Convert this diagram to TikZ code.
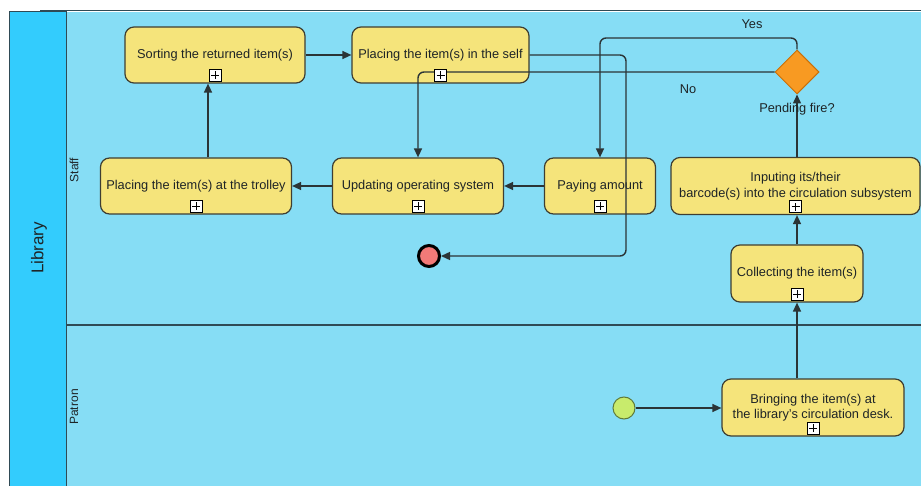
\documentclass[tikz,border=0pt]{standalone}
\usepackage{fontspec}
\setmainfont{Liberation Sans}
\usetikzlibrary{arrows.meta,shapes.geometric,calc}

\definecolor{poolstrip}{HTML}{33CCFD}
\definecolor{lanefill}{HTML}{86DDF5}
\definecolor{poolline}{HTML}{2F4A55}
\definecolor{taskfill}{HTML}{F5E47B}
\definecolor{taskline}{HTML}{3E3E32}
\definecolor{gatefill}{HTML}{F89A22}
\definecolor{gateline}{HTML}{C8700A}
\definecolor{startfill}{HTML}{C8EB6C}
\definecolor{startline}{HTML}{5F7A3A}
\definecolor{endfill}{HTML}{F27A78}
\definecolor{edgecol}{HTML}{2B3436}
\definecolor{txt}{HTML}{1E2426}

\newcommand{\tasksize}{\fontsize{12.8}{15.5}\selectfont}

\tikzset{
  task/.style={draw=taskline, fill=taskfill, rounded corners=9pt, line width=1.2pt,
    align=center, font=\tasksize, text=txt, inner sep=0pt},
  plusbox/.style={draw=black, fill=white, line width=0.9pt, minimum size=12pt,
    inner sep=0pt, anchor=south,
    path picture={\draw[line width=1pt]
      ([xshift=-4pt]path picture bounding box.center) -- ([xshift=4pt]path picture bounding box.center)
      ([yshift=-4pt]path picture bounding box.center) -- ([yshift=4pt]path picture bounding box.center);}},
  flow/.style={draw=edgecol, line width=1.4pt, rounded corners=6pt,
    -{Triangle[length=9pt,width=8pt]}},
  flowlabel/.style={font=\tasksize, text=txt, inner sep=0pt},
  lanelabel/.style={font=\fontsize{12}{14}\selectfont, text=txt, rotate=90, inner sep=0pt},
}

\begin{document}
\begin{tikzpicture}[x=1pt,y=-1pt]
  \useasboundingbox (0,0) rectangle (921,486);
  \fill[white] (0,0) rectangle (921,486);

  % pool and its two lanes
  \fill[lanefill] (66,12) rectangle (921,486);
  \fill[poolstrip] (9,12) rectangle (66,486);
  \draw[poolline, line width=1.2pt] (40,10.5) -- (921,10.5);
  \draw[poolline, line width=1pt] (9,490) -- (9,12) -- (66,12) -- (66,490);
  \draw[poolline, line width=1.2pt] (66,325) -- (921,325);

  \node[font=\fontsize{17}{20}\selectfont, text=txt, rotate=90, inner sep=0pt] (pool) at (39,248) {Library};
  \node[lanelabel] (staff) at (74,170) {Staff};
  \node[lanelabel] (patron) at (74,407) {Patron};

  % activities
  \node[task, minimum width=180pt, minimum height=56pt] (sort) at (215,55) {Sorting the returned item(s)};
  \node[task, minimum width=177pt, minimum height=56pt] (self) at (440.5,55) {Placing the item(s) in the self};
  \node[task, minimum width=191pt, minimum height=56pt] (trol) at (196,186) {Placing the item(s) at the trolley};
  \node[task, minimum width=171pt, minimum height=56pt] (upd) at (418,186) {Updating operating system};
  \node[task, minimum width=111pt, minimum height=56pt] (pay) at (600,186) {Paying amount};
  \node[task, minimum width=249pt, minimum height=57pt] (inp) at (795.5,186) {Inputing its/their\\barcode(s) into the circulation subsystem};
  \node[task, minimum width=132pt, minimum height=57pt] (col) at (797,273.5) {Collecting the item(s)};
  \node[task, minimum width=182pt, minimum height=57pt] (bring) at (813,407.5) {Bringing the item(s) at\\the library's circulation desk.};

  % gateway and events
  \node[diamond, draw=gateline, fill=gatefill, line width=1pt, minimum width=44pt,
    minimum height=44pt, inner sep=0pt] (gw) at (797,72) {};
  \node[circle, draw=startline, fill=startfill, line width=1pt, minimum size=22pt, inner sep=0pt] (start) at (624,408) {};
  \node[circle, draw=black, fill=endfill, line width=3pt, minimum size=21pt, inner sep=0pt] (end) at (429,256) {};

  % turning points of the routed flows
  \coordinate (selfdrop) at (626,256);
  \coordinate (yesturn) at (600,38);

  % sequence flows
  \draw[flow] (sort.east) -- (self.west);
  \draw[flow] (self.east) -| (selfdrop) -- (end.east);
  \draw[flow] (gw.north) |- (yesturn) -- (pay.north);
  \draw[flow] (gw.west) -| (upd.north);
  \draw[flow] (pay.west) -- (upd.east);
  \draw[flow] (upd.west) -- (trol.east);
  \draw[flow] ([xshift=12pt]trol.north) -- ([xshift=12pt]trol.north |- sort.south);
  \draw[flow] (gw.south |- inp.north) -- (gw.south);
  \draw[flow] (col.north) -- (col.north |- inp.south);
  \draw[flow] (col.south |- bring.north) -- (col.south);
  \draw[flow] (start.east) -- (start.east -| bring.west);

  \node[flowlabel] (yes) at (752,24) {Yes};
  \node[flowlabel] (no) at (688,89) {No};
  \node[flowlabel] (pend) at (797,109) {Pending fire?};

  % collapsed sub-process markers
  \foreach \t in {sort,self,trol,upd,pay,inp,col,bring}
    \node[plusbox, name=plus-\t] at ([yshift=2pt]\t.south) {};
\end{tikzpicture}
\end{document}
